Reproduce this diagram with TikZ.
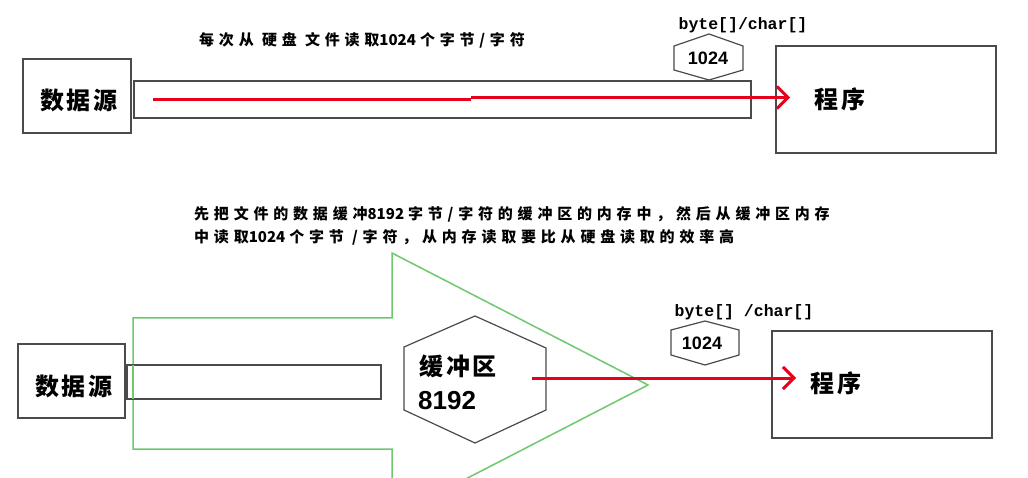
\documentclass[tikz,border=0pt]{standalone}
\usepackage{fontspec}
\setmainfont{Liberation Sans}
\newfontfamily\cjk{Noto Sans CJK SC}
\newfontfamily\monob{Liberation Mono}
\newcommand{\tightnum}[1]{{\addfontfeature{LetterSpace=0}#1\hspace{4pt}}}
\usetikzlibrary{arrows.meta}
\definecolor{boxgray}{RGB}{75,75,75}
\definecolor{redline}{RGB}{230,0,28}
\definecolor{greenline}{RGB}{110,200,110}
\begin{document}
\begin{tikzpicture}[x=1pt,y=-1pt,
  box/.style={draw=boxgray,line width=1.5pt,inner sep=0pt},
  hexline/.style={draw=boxgray,line width=1.2pt},
  redarrow/.style={draw=redline,line width=3pt,-{Straight Barb[length=11pt,width=22pt]}},
  redseg/.style={draw=redline,line width=3pt},
  greenarrow/.style={draw=greenline,line width=1.5pt,line join=miter},
  bigcjk/.style={font=\cjk\bfseries\fontsize{24}{28}\selectfont\addfontfeature{LetterSpace=12},inner sep=0pt},
  capA/.style={font=\cjk\bfseries\fontsize{15}{23}\selectfont\addfontfeature{LetterSpace=32},inner sep=0pt,anchor=west},
  monolbl/.style={font=\monob\bfseries\fontsize{16.5}{18}\selectfont,inner sep=0pt},
  numlbl/.style={font=\bfseries\fontsize{18}{20}\selectfont,inner sep=0pt}
]
\useasboundingbox (0,0) rectangle (1028,478);
\fill[white] (0,0) rectangle (1028,478);

% ---------- top ----------
\node[capA] (cap1) at (199,40) {每次从 硬盘 文件读取\tightnum{1024}个字节/字符};
\node[box,minimum width=108pt,minimum height=74pt] (src1) at (77,96) {};
\node[bigcjk] (src1t) at (79,100) {数据源};
\node[box,minimum width=617pt,minimum height=37pt] (pipe1) at (442.5,99.5) {};
\node[box,minimum width=220pt,minimum height=107pt] (prog1) at (886,99.5) {};
\node[bigcjk] (prog1t) at (840,99) {程序};
\draw[hexline,fill=white] (709,34) -- (743,46) -- (743,70) -- (709,80) -- (674,70) -- (674,46) -- cycle;
\node[numlbl] (n1) at (708,58) {1024};
\node[monolbl] (b1) at (743,25) {byte[]/char[]};
\coordinate (a1s) at (153,99.5);
\coordinate (a1m) at (471,99.5);
\coordinate (a1n) at (471,97.5);
\coordinate (a1e) at (790,97.5);
\draw[redseg] (a1s) -- (a1m);
\draw[redarrow] (a1n) -- (a1e);

% ---------- bottom ----------
\node[capA] (cap2) at (194,214) {先把文件的数据缓冲\tightnum{8192}字节/字符的缓冲区的内存中，然后从缓冲区内存};
\node[capA] (cap3) at (194,237) {中读取\tightnum{1024}个字节 /字符，从内存读取要比从硬盘读取的效率高};

\draw[greenarrow] (133,318) -- (392,318) -- (392,253) -- (648,385) -- (392,517) -- (392,449) -- (133,449) -- cycle;

\node[box,minimum width=107pt,minimum height=74pt] (src2) at (71.5,381) {};
\node[bigcjk] (src2t) at (74,386) {数据源};
\node[box,minimum width=254pt,minimum height=34pt] (pipe2) at (254,382) {};
\draw[greenline,line width=1.5pt] (133,365) -- (133,399);

\draw[hexline] (475,316) -- (546,348) -- (546,410) -- (475,443) -- (404,410) -- (404,347) -- cycle;
\node[bigcjk,anchor=west] (buf) at (419,366) {缓冲区};
\node[font=\bfseries\fontsize{26}{28}\selectfont,inner sep=0pt,anchor=west] (n8192) at (418,401) {8192};

\node[monolbl] (b2) at (744,312) {byte[] /char[]};
\draw[hexline] (705,321) -- (739,330) -- (739,355) -- (705,365) -- (671,355) -- (671,330) -- cycle;
\node[numlbl] (n2) at (702,343) {1024};

\node[box,minimum width=220pt,minimum height=107pt] (prog2) at (882,384.5) {};
\node[bigcjk] (prog2t) at (836,383) {程序};

\coordinate (a2s) at (532,378);
\coordinate (a2e) at (796,378);
\draw[redarrow] (a2s) -- (a2e);
\end{tikzpicture}
\end{document}
